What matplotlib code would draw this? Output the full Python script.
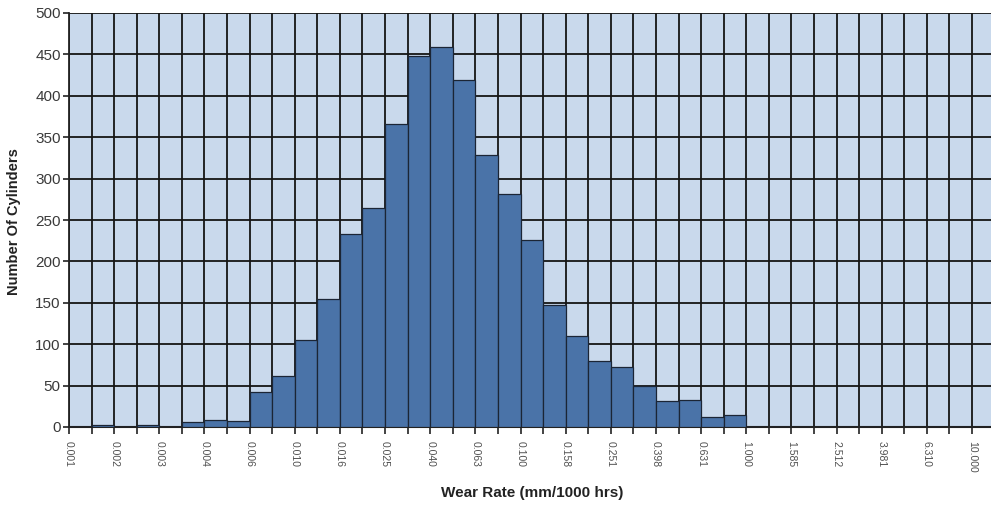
import matplotlib
matplotlib.use("Agg")
import matplotlib.pyplot as plt
import numpy as np

plt.rcParams['font.family'] = ['Liberation Sans', 'DejaVu Sans']

# Counts per bin (40 log-spaced bins from 0.001 to 10.000)
counts = [0, 3, 0, 3, 0, 6, 8, 7, 42, 61,
          105, 154, 233, 265, 366, 448, 459, 419, 329, 281,
          226, 147, 110, 80, 73, 49, 31, 33, 12, 14,
          0, 0, 0, 0, 0, 0, 0, 0, 0, 0]
tick_labels = ["0.001", "0.002", "0.003", "0.004", "0.006", "0.010", "0.016",
               "0.025", "0.040", "0.063", "0.100", "0.158", "0.251", "0.398",
               "0.631", "1.000", "1.585", "2.512", "3.981", "6.310", "10.000"]
y_ticks = [0, 50, 100, 150, 200, 250, 300, 350, 400, 450, 500]

fig = plt.figure(figsize=(9.91, 5.05), dpi=100)
ax = fig.add_axes([69/991, 78/505, (991-69)/991, (427-13)/505])
ax.set_facecolor('#c9d9ec')

x = np.arange(len(counts))
ax.bar(x, counts, width=1.0, align='edge', color='#4a73a8',
       edgecolor='#1b2535', linewidth=0.9, zorder=3)

ax.set_xlim(0, 40.84)
ax.set_ylim(0, 500)

ax.set_xticks(np.arange(0, 41, 1))
labels_full = []
for i in range(41):
    labels_full.append(tick_labels[i // 2] if i % 2 == 0 else "")
ax.set_xticklabels(labels_full, rotation=270, fontsize=7.5, color='#505050')
ax.set_yticks(y_ticks)
ax.set_yticklabels([str(v) for v in y_ticks], fontsize=11, color='#3a3a3a')

ax.grid(True, which='major', color='#151515', linewidth=1.3, zorder=1)
ax.set_axisbelow(True)
ax.tick_params(axis='x', length=5, width=1.2, color='#222222', pad=5)
ax.tick_params(axis='y', length=4, width=1.2, color='#222222', pad=2)

for side in ['top', 'right']:
    ax.spines[side].set_visible(False)
ax.spines['left'].set_color('#222222')
ax.spines['left'].set_linewidth(1.3)
ax.spines['bottom'].set_color('#222222')
ax.spines['bottom'].set_linewidth(1.5)

ax.set_xlabel("Wear Rate (mm/1000 hrs)", fontsize=11, fontweight='bold',
              color='#222222')
ax.set_ylabel("Number Of Cylinders", fontsize=10.5, fontweight='bold',
              color='#222222')
ax.xaxis.set_label_coords((532-69)/(991-69), -(486-427)/(427-13))
ax.yaxis.set_label_coords(-(69-21)/(991-69), (427-222)/(427-13))

fig.savefig("out.png", dpi=100, facecolor='white')
